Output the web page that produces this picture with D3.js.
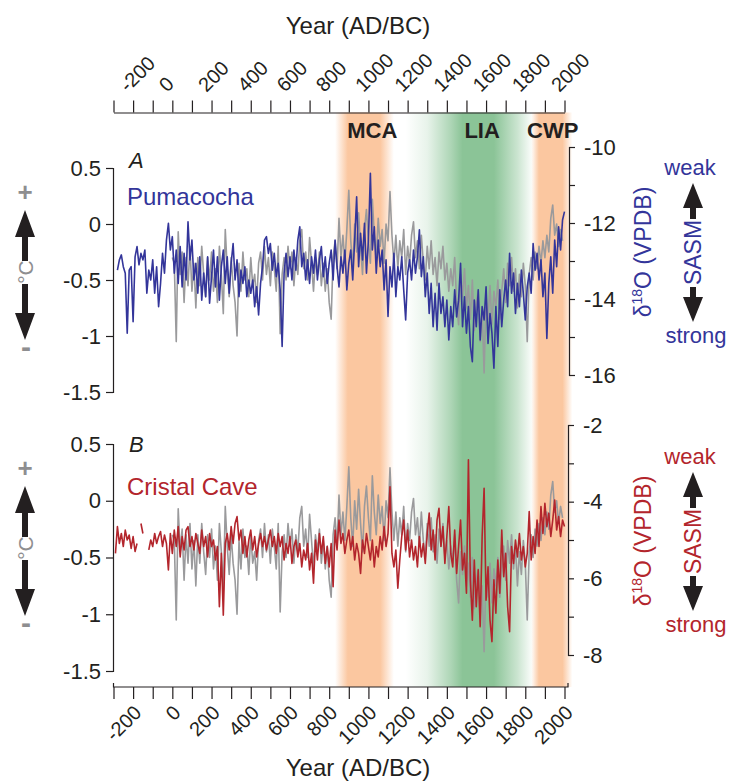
<!DOCTYPE html>
<html>
<head>
<meta charset="utf-8">
<script src="https://cdn.jsdelivr.net/npm/d3@7/dist/d3.min.js"></script>
<style>
  body { margin: 0; background: #fff; }
  svg { display: block; }
  text { font-family: "Liberation Sans", Arial, Helvetica, sans-serif; }
</style>
</head>
<body>
<svg id="chart" width="732" height="782"></svg>
<script>
// ---------------------------------------------------------------
// Data: decadal values (one value every 10 years)
// ---------------------------------------------------------------
const sampleStep = 10;

// Pumacocha lake record, δ18O (‰ VPDB), 280 BC – AD 2000
const pumacochaStart = -280;
const pumacocha = [
  -13.24,-12.97,-12.84,-13.15,-13.32,-14.9,-13.24,-13.15,-14.6,-12.89,
  -12.62,-13.1,-12.8,-12.97,-12.71,-13.85,-13.24,-13.5,-12.97,-13.85,
  -13.15,-14.2,-13.59,-12.8,-13.32,-12.45,-12.01,-12.71,-12.36,-13.32,
  -12.71,-13.59,-12.62,-13.68,-12.8,-13.5,-11.97,-12.97,-12.45,-13.5,
  -13.06,-13.85,-12.89,-14.03,-13.32,-13.94,-12.89,-14.11,-13.41,-12.71,
  -13.68,-12.89,-14.03,-13.15,-12.71,-13.59,-12.89,-13.85,-13.06,-12.54,
  -13.5,-12.97,-13.94,-13.24,-13.59,-13.15,-13.94,-13.5,-13.85,-13.5,
  -14.2,-13.68,-14.42,-13.59,-13.15,-12.45,-12.36,-12.8,-12.54,-13.24,
  -12.8,-13.41,-13.06,-13.76,-15.25,-13.32,-12.8,-13.41,-12.89,-13.5,
  -12.71,-13.24,-12.45,-12.1,-13.15,-12.8,-13.5,-12.97,-13.59,-12.89,
  -13.32,-12.71,-13.5,-12.97,-12.62,-13.41,-12.89,-13.59,-13.06,-12.71,
  -13.5,-12.45,-13.15,-13.68,-12.89,-13.32,-12.71,-13.76,-13.06,-12.71,
  -13.5,-12.45,-11.31,-13.15,-12.27,-12.97,-12.01,-13.32,-12.45,-10.69,
  -12.71,-12.1,-13.32,-12.45,-13.15,-12.71,-13.76,-12.97,-14.46,-13.15,
  -13.68,-12.8,-13.94,-13.15,-13.5,-12.89,-13.76,-14.55,-13.32,-12.97,
  -13.5,-12.71,-13.32,-12.89,-12.18,-13.41,-12.89,-13.94,-13.32,-14.38,
  -13.59,-14.73,-13.85,-14.82,-13.59,-14.38,-13.94,-14.73,-14.03,-15.08,
  -14.2,-14.73,-13.76,-14.47,-14.03,-13.06,-14.73,-13.94,-14.9,-14.2,
  -15.25,-15.65,-14.03,-14.73,-13.76,-15.08,-14.2,-14.55,-13.68,-15.17,
  -14.38,-14.9,-15.82,-14.2,-15.25,-13.76,-14.73,-14.03,-13.5,-14.2,
  -12.8,-13.85,-13.32,-14.38,-13.59,-14.2,-13.24,-13.85,-14.55,-13.68,
  -13.32,-13.85,-12.54,-13.24,-12.8,-13.5,-12.97,-13.94,-13.32,-15.04,
  -13.59,-12.89,-13.85,-12.45,-13.15,-12.1,-12.71,-11.92,-11.7
];

// Cristal Cave speleothem, δ18O (‰ VPDB), 290 BC – AD 2000 (null = hiatus)
const cristalStart = -290;
const cristalCave = [
  -5.35,-4.65,-5.09,-4.83,-5.17,-4.74,-5.0,-4.87,-5.22,-4.91,
  -5.30,-5.09,null,-4.57,-4.83,null,null,-5.26,-5.0,-5.17,
  -4.83,-5.09,-4.91,-4.78,-5.17,-4.87,-5.09,-5.78,-4.83,-5.35,
  -4.74,-5.17,-4.65,-5.44,-4.91,-5.26,-4.74,-4.65,-5.17,-4.91,
  -5.26,-4.83,-5.09,-5.35,-4.74,-5.17,-4.91,-5.44,-4.83,-5.17,
  -5.0,-5.52,-5.17,-6.74,-5.35,-6.96,-5.09,-4.83,-5.26,-4.65,
  -5.09,-4.57,-4.39,-5.0,-4.74,-5.35,-4.91,-5.44,-5.0,-4.74,
  -5.26,-4.91,-5.44,-5.09,-4.83,-5.17,-4.91,-5.26,-5.0,-4.74,
  -5.17,-4.91,-5.35,-4.83,-5.17,-4.91,-5.52,-5.09,-5.35,-4.91,
  -5.61,-5.17,-5.0,-5.44,-5.09,-5.70,-5.26,-5.52,-5.09,-5.78,
  -5.35,-6.13,-5.0,-5.52,-4.83,-5.35,-4.91,-5.61,-5.17,-5.70,
  -5.09,-6.22,-4.74,-5.26,-4.48,-5.09,-4.83,-5.35,-5.0,-4.74,
  -5.26,-4.91,-5.52,-5.09,-5.35,-5.87,-5.0,-5.35,-4.83,-5.17,
  -5.52,-5.0,-5.70,-5.17,-5.44,-4.91,-5.26,-4.65,-5.17,-4.83,
  -3.61,-5.35,-5.70,-5.26,-6.26,-5.52,-4.91,-4.48,-5.26,-4.74,
  -5.44,-5.0,-5.52,-5.17,-5.70,-4.91,-5.44,-5.09,-5.61,-4.83,
  -4.30,-5.26,-4.74,-5.52,-4.48,-4.17,-5.17,-4.65,-5.61,-4.91,
  -4.13,-5.35,-5.70,-4.74,-5.87,-5.17,-4.48,-5.78,-5.35,-6.39,
  -2.91,-6.04,-7.09,-5.52,-6.74,-5.78,-7.26,-4.91,-3.65,-6.57,
  -5.70,-7.09,-7.65,-6.04,-6.91,-5.52,-6.39,-4.74,-5.96,-5.35,
  -6.74,-7.39,-5.17,-5.61,-5.0,-5.44,-4.83,-5.52,-5.17,-5.70,
  -5.35,-4.26,-5.52,-4.91,-5.35,-4.48,-5.17,-4.13,-4.83,-4.04,
  -4.65,-4.30,-4.91,-4.48,-3.96,-4.74,-4.39,-4.91,-4.48,-4.65
];

// Temperature reconstruction (°C anomaly), AD 0 – 1990, shown in both panels
const temperatureStart = 0;
const temperature = [
  -0.30,-0.35,-1.05,-0.07,-0.45,-0.25,-0.70,-0.30,-0.55,-0.20,
  -0.60,-0.35,-0.75,-0.30,-0.55,-0.20,-0.45,-0.65,-0.30,-0.50,
  -0.25,-0.60,-0.40,-0.70,-0.20,-0.45,-0.80,-0.05,-0.40,-0.65,
  -0.30,-0.55,-0.70,-1.00,-0.35,-0.60,-0.25,-0.50,-0.40,-0.65,
  -0.30,-0.55,-0.45,-0.70,-0.35,-0.25,-0.50,-0.20,-0.45,-0.30,
  -0.55,-0.25,-0.40,-0.60,-0.20,-0.98,-0.45,-0.30,-0.50,-0.20,
  -0.40,-0.25,-0.55,-0.30,-0.45,-0.15,-0.05,-0.40,-0.25,-0.50,
  -0.12,-0.35,-0.60,-0.30,-0.45,-0.25,-0.55,-0.35,-0.60,-0.40,
  -0.70,-0.85,-0.30,-0.15,-0.40,0.05,-0.30,-0.10,-0.35,-0.05,
  0.30,-0.15,-0.40,0.00,-0.25,0.10,-0.20,-0.45,-0.05,0.13,
  -0.15,-0.35,0.22,-0.10,-0.30,0.05,-0.20,-0.05,-0.35,0.00,
  -0.15,0.29,-0.10,-0.35,-0.10,-0.40,-0.15,-0.30,-0.05,-0.45,
  -0.20,-0.35,-0.10,0.02,-0.30,-0.15,-0.40,-0.10,-0.35,-0.50,
  -0.20,-0.40,-0.15,-0.45,-0.30,-0.55,-0.25,-0.40,-0.20,-0.50,
  -0.35,-0.60,-0.40,-0.55,-0.30,-0.70,-0.90,-0.45,-0.65,-0.40,
  -0.75,-0.55,-0.85,-0.50,-0.95,-0.70,-0.60,-1.05,-0.75,-1.33,
  -0.65,-0.85,-0.55,-0.90,-0.60,-0.75,-0.50,-0.85,-0.60,-0.40,
  -0.70,-0.35,-0.55,-0.30,-0.60,-0.40,-0.75,-0.45,-0.65,-0.35,
  -0.55,-1.05,-0.45,-0.30,-0.50,-0.25,-0.40,-0.20,-0.35,-0.15,
  -0.30,-0.10,-0.25,0.05,0.17,-0.10,0.00,-0.20,-0.05,-0.15
];

// Climate periods: name, label year, and [year, intensity] ramps
const periodNames = ["MCA", "LIA", "CWP"];
const periodLabelYears = [1020, 1580, 1940];
const periodRamps = [
  [[830, 0], [895, 1], [1060, 1], [1130, 0]],
  [[1190, 0], [1300, 0.2], [1420, 0.7], [1480, 1], [1640, 1], [1760, 0.45], [1840, 0]],
  [[1830, 0], [1870, 1], [1990, 1], [2040, 0]]
];

// Axis ticks
const yearTicks = d3.range(-300, 2001, 100);
const yearLabels = [-200, 0, 200, 400, 600, 800, 1000, 1200, 1400, 1600, 1800, 2000];
const tempTicks = [0.5, 0, -0.5, -1, -1.5];
const pumaTicks = [-10, -11, -12, -13, -14, -15, -16];
const pumaLabels = [-10, -12, -14, -16];
const cristalTicks = [-2, -3, -4, -5, -6, -7, -8];
const cristalLabels = [-2, -4, -6, -8];

// ---------------------------------------------------------------
const toSeries = (start, values) => values.map((v, i) => ({ year: start + i * sampleStep, v }));
const pumaSeries = toSeries(pumacochaStart, pumacocha);
const cristalSeries = toSeries(cristalStart, cristalCave);
const tempSeries = toSeries(temperatureStart, temperature);

const ink = "#231f20";
const grey = "#9a9a9c";
const markerGrey = "#8e8e90";
const blue = "#33359a";
const red = "#b3252c";
const bandColors = ["#fbc7a0", "#8bc497", "#fbc7a0"];

const svg = d3.select("#chart");
const x = d3.scaleLinear().domain([-300, 2000]).range([113.5, 564.5]);

const bandTop = 112.5, bandBottom = 687;

// ---- period shading ----
const defs = svg.append("defs");
periodNames.forEach((name, i) => {
  const ramp = periodRamps[i];
  const x0 = x(ramp[0][0]), x1 = x(ramp[ramp.length - 1][0]);
  const grad = defs.append("linearGradient")
    .attr("id", "band-" + name)
    .attr("gradientUnits", "userSpaceOnUse")
    .attr("x1", x0).attr("x2", x1).attr("y1", 0).attr("y2", 0);
  ramp.forEach(([yr, a]) => {
    grad.append("stop")
      .attr("offset", (x(yr) - x0) / (x1 - x0))
      .attr("stop-color", bandColors[i])
      .attr("stop-opacity", a);
  });
  svg.append("rect")
    .attr("x", x0).attr("y", bandTop)
    .attr("width", x1 - x0).attr("height", bandBottom - bandTop)
    .attr("fill", `url(#band-${name})`);
  svg.append("text")
    .attr("x", x(periodLabelYears[i])).attr("y", 138)
    .attr("text-anchor", "middle")
    .attr("font-size", 22).attr("font-weight", "bold")
    .attr("fill", ink)
    .text(name);
});

// ---- year axes ----
function styleAxis(g) {
  g.attr("font-family", null).attr("font-size", null);
  g.selectAll("path, line").attr("stroke", ink).attr("stroke-width", 1.2);
}

const topAxis = svg.append("g").attr("transform", "translate(0,112.5)")
  .call(d3.axisTop(x).tickValues(yearTicks).tickSize(12).tickSizeOuter(0).tickFormat(""))
  .call(styleAxis);
yearLabels.forEach(d => {
  topAxis.append("text")
    .attr("transform", `translate(${x(d) - 5},${93 - 112.5}) rotate(-45)`)
    .attr("text-anchor", "start")
    .attr("font-size", 20).attr("fill", ink)
    .text(String(d));
});

const bottomAxis = svg.append("g").attr("transform", "translate(0,687)")
  .call(d3.axisBottom(x).tickValues(yearTicks).tickSize(12).tickSizeOuter(0).tickFormat(""))
  .call(styleAxis);
bottomAxis.select(".domain").remove();
bottomAxis.append("path")
  .attr("d", `M${x(-300)},-4V0H${x(2000) + 3.5}V-4`)
  .attr("fill", "none").attr("stroke", ink).attr("stroke-width", 1.2);
yearLabels.forEach(d => {
  bottomAxis.append("text")
    .attr("transform", `translate(${x(d) + 9.5},${714 - 687}) rotate(-45)`)
    .attr("text-anchor", "end")
    .attr("font-size", 20).attr("fill", ink)
    .text(String(d));
});

svg.append("text").attr("x", 358).attr("y", 34).attr("text-anchor", "middle")
  .attr("font-size", 24).attr("fill", ink).text("Year (AD/BC)");
svg.append("text").attr("x", 358).attr("y", 776).attr("text-anchor", "middle")
  .attr("font-size", 24).attr("fill", ink).text("Year (AD/BC)");

// ---- helpers ----
function arrow(g, cx, yTip, yBase, yTail, headW, shaftW) {
  const pts = [
    [cx, yTip], [cx + headW / 2, yBase], [cx + shaftW / 2, yBase], [cx + shaftW / 2, yTail],
    [cx - shaftW / 2, yTail], [cx - shaftW / 2, yBase], [cx - headW / 2, yBase]
  ];
  g.append("polygon").attr("points", pts.map(p => p.join(",")).join(" ")).attr("fill", ink);
}

function vText(g, cx, cy, size, color, build) {
  const t = g.append("text")
    .attr("transform", `translate(${cx},${cy}) rotate(-90)`)
    .attr("text-anchor", "middle").attr("dy", "0.35em")
    .attr("font-size", size).attr("fill", color);
  build(t);
  return t;
}

// ---- panels ----
const panels = [
  {
    letter: "A", name: "Pumacocha", color: blue, series: pumaSeries,
    leftRange: [392, 168], rightDomain: [-16, -10], rightRange: [375, 147], rightX: 569,
    ticks: pumaTicks, labels: pumaLabels, labelY: 168, nameY: 205, leftShift: 0, rightShift: 0
  },
  {
    letter: "B", name: "Cristal Cave", color: red, series: cristalSeries,
    leftRange: [671, 444], rightDomain: [-8, -2], rightRange: [655, 425], rightX: 568,
    ticks: cristalTicks, labels: cristalLabels, labelY: 452, nameY: 495, leftShift: 276, rightShift: 289
  }
];

panels.forEach(p => {
  const g = svg.append("g");
  const yT = d3.scaleLinear().domain([-1.5, 0.5]).range(p.leftRange);
  const yD = d3.scaleLinear().domain(p.rightDomain).range(p.rightRange);

  // left axis: temperature
  g.append("g").attr("transform", "translate(113,0)")
    .call(d3.axisLeft(yT).tickValues(tempTicks).tickSize(7).tickPadding(5).tickFormat(d => String(d)))
    .call(styleAxis)
    .selectAll("text").attr("font-size", 22).attr("fill", ink);

  // right axis: δ18O
  g.append("g").attr("transform", `translate(${p.rightX},0)`)
    .call(d3.axisRight(yD).tickValues(p.ticks).tickSize(6).tickPadding(9)
      .tickFormat(d => p.labels.includes(d) ? String(d) : ""))
    .call(styleAxis)
    .selectAll("text").attr("font-size", 22).attr("fill", ink);

  // series
  g.append("path").datum(tempSeries)
    .attr("fill", "none").attr("stroke", grey).attr("stroke-width", 1.6)
    .attr("stroke-linejoin", "round")
    .attr("d", d3.line().x(d => x(d.year)).y(d => yT(d.v)));
  g.append("path").datum(p.series)
    .attr("fill", "none").attr("stroke", p.color).attr("stroke-width", 1.6)
    .attr("stroke-linejoin", "round")
    .attr("d", d3.line().defined(d => d.v != null).x(d => x(d.year)).y(d => yD(d.v)));

  // panel letter and record name
  g.append("text").attr("x", 129).attr("y", p.labelY)
    .attr("font-size", 22).attr("font-style", "italic").attr("fill", ink).text(p.letter);
  g.append("text").attr("x", 127).attr("y", p.nameY)
    .attr("font-size", 24).attr("fill", p.color).text(p.name);

  // temperature direction marker (left)
  const L = g.append("g").attr("transform", `translate(0,${p.leftShift})`);
  L.append("text").attr("x", 25).attr("y", 201).attr("text-anchor", "middle")
    .attr("font-size", 26).attr("font-weight", "bold").attr("fill", markerGrey).text("+");
  arrow(L, 25, 210, 237, 261, 20, 6);
  vText(L, 26, 272, 21, markerGrey, t => t.text("°C"));
  arrow(L, 25, 340, 313, 284, 20, 6);
  L.append("text").attr("x", 26).attr("y", 357).attr("text-anchor", "middle")
    .attr("font-size", 30).attr("font-weight", "bold").attr("fill", markerGrey).text("-");

  // monsoon direction marker (right)
  const R = g.append("g").attr("transform", `translate(0,${p.rightShift})`);
  vText(R, 643, 252, 23, p.color, t => {
    t.append("tspan").text("δ");
    t.append("tspan").attr("font-size", 14).attr("dy", -9).text("18");
    t.append("tspan").attr("dy", 9).text("O (VPDB)");
  });
  R.append("text").attr("x", 690).attr("y", 175).attr("text-anchor", "middle")
    .attr("font-size", 22).attr("fill", p.color).text("weak");
  arrow(R, 693, 183, 208, 219, 20, 6);
  vText(R, 693, 252.5, 23, p.color, t => t.text("SASM"));
  arrow(R, 693, 322, 297, 287, 20, 6);
  R.append("text").attr("x", 696).attr("y", 343).attr("text-anchor", "middle")
    .attr("font-size", 22).attr("fill", p.color).text("strong");
});
</script>
</body>
</html>
